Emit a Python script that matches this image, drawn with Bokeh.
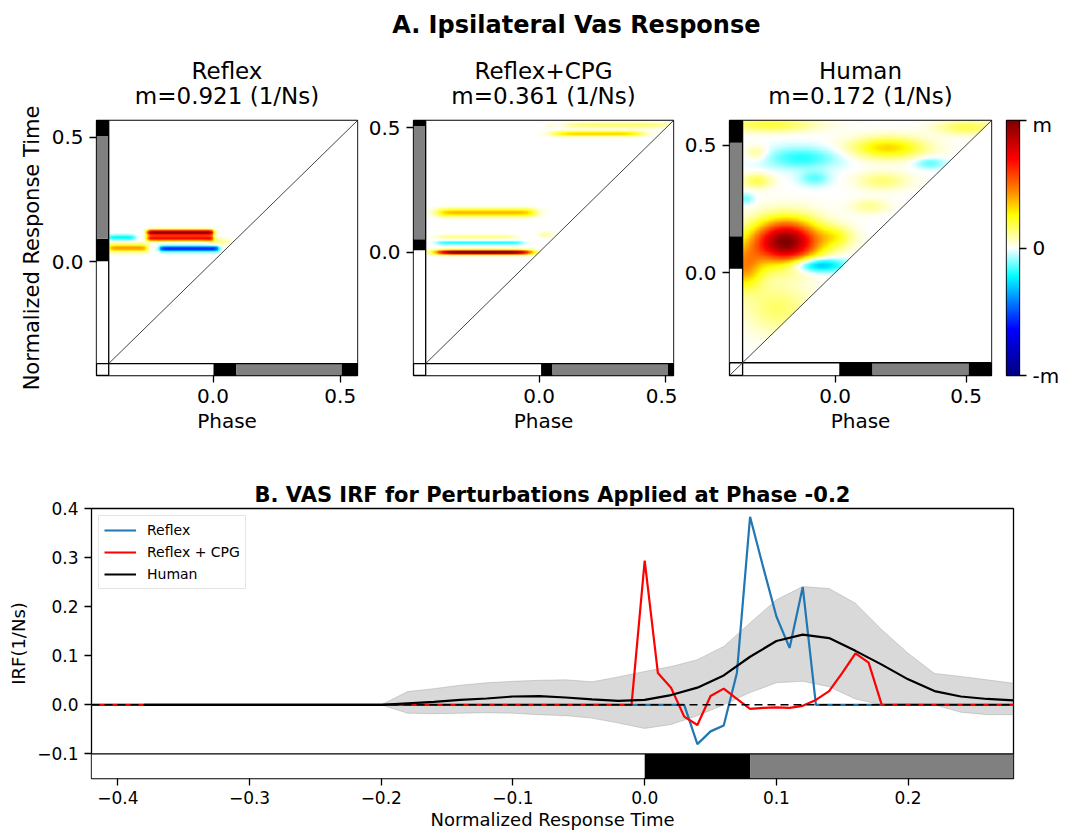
import numpy as np
from bokeh.plotting import figure
from bokeh.layouts import column, row
from bokeh.models import LinearColorMapper, Range1d, FixedTicker, Legend, LegendItem
from bokeh.embed import file_html
from bokeh.resources import INLINE
from bokeh.core.properties import value

FONT = "DejaVu Sans"

# ------------------------------------------------------------------ data: panel A
suptitle = "A. Ipsilateral Vas Response"
panel_titles = ["Reflex", "Reflex+CPG", "Human"]
panel_m = ["0.921", "0.361", "0.172"]
a_ylabel = "Normalized Response Time"
a_xlabel = "Phase"
panel_lo = [-0.41, -0.447, -0.353]      # phase range of the main map
panel_hi = [0.568, 0.530, 0.597]
strip_w = [0.048, 0.048, 0.050]          # width of the phase strips
phase_bounds = [[0.002, 0.092, 0.506],   # white | black | gray | black
                [0.008, 0.053, 0.508],
                [0.016, 0.143, 0.510]]
phase_colors = ["white", "black", "gray", "black"]
diag_from_corner = [False, False, True]

# Reflex map: horizontal bands (x0, x1, y, thickness, amplitude / m, edge softness)
rfx_x0 = [-0.26, -0.26, -0.21, -0.41, -0.41, -0.02]
rfx_x1 = [0.00, 0.00, 0.02, -0.26, -0.31, 0.06]
rfx_y = [0.117, 0.094, 0.052, 0.055, 0.097, 0.080]
rfx_sy = [0.008, 0.008, 0.008, 0.011, 0.007, 0.010]
rfx_amp = [0.95, 0.72, -0.58, 0.42, -0.25, 0.12]
rfx_edge = [0.010, 0.010, 0.010, 0.012, 0.012, 0.020]

# Reflex+CPG map: horizontal bands
cpg_x0 = [-0.40, -0.40, -0.40, -0.40, 0.06, 0.11, 0.00, 0.03]
cpg_x1 = [-0.04, -0.07, -0.10, -0.02, 0.40, 0.50, 0.05, 0.05]
cpg_y = [0.000, 0.038, 0.061, 0.160, 0.478, 0.512, 0.072, 0.510]
cpg_sy = [0.007, 0.005, 0.006, 0.011, 0.007, 0.008, 0.008, 0.004]
cpg_amp = [1.00, -0.20, 0.13, 0.38, 0.33, 0.15, 0.10, 0.10]
cpg_edge = [0.040, 0.020, 0.030, 0.030, 0.040, 0.040, 0.015, 0.010]

# Human map: smooth blobs (centre, spread, amplitude / m)
hum_xc = [-0.19, -0.35, -0.07, -0.13, -0.08, 0.20, 0.36, -0.25, 0.50, 0.18, 0.13, -0.30, -0.22, -0.34, 0.00, -0.30]
hum_yc = [0.12, 0.02, 0.03, 0.45, 0.37, 0.49, 0.43, 0.58, 0.57, 0.36, 0.26, 0.36, -0.14, 0.29, 0.14, 0.47]
hum_sx = [0.09, 0.05, 0.07, 0.10, 0.04, 0.10, 0.04, 0.12, 0.08, 0.07, 0.05, 0.04, 0.09, 0.02, 0.05, 0.03]
hum_sy = [0.06, 0.06, 0.02, 0.03, 0.02, 0.03, 0.015, 0.02, 0.02, 0.025, 0.02, 0.02, 0.07, 0.015, 0.03, 0.02]
hum_amp = [1.00, 0.40, -0.40, -0.19, -0.14, 0.32, -0.15, 0.20, 0.18, 0.14, 0.11, 0.18, 0.15, -0.12, 0.18, 0.12]

# colour map (jet with white centre)
cm_pos = [0.0, 0.18, 0.29, 0.39, 0.5, 0.63, 0.73, 0.85, 1.0]
cm_col = ["#00007f", "#0000ff", "#0080ff", "#00ffff", "#ffffff", "#ffff00", "#ff8000", "#ff0000", "#7f0000"]
cbar_ticks = [-1, 0, 1]
cbar_labels = ["-m", "0", "m"]

# ------------------------------------------------------------------ data: panel B
b_title = "B. VAS IRF for Perturbations Applied at Phase -0.2"
reflex_t = [-0.42, 0.03, 0.04, 0.05, 0.06, 0.07, 0.08, 0.09, 0.10, 0.11, 0.12, 0.13, 0.28]
reflex_irf = [0.0, 0.0, -0.080, -0.054, -0.042, 0.065, 0.383, 0.280, 0.180, 0.116, 0.240, 0.0, 0.0]
cpg_t = [-0.42, -0.01, 0.00, 0.01, 0.02, 0.03, 0.04, 0.05, 0.06, 0.07, 0.08, 0.09, 0.10,
         0.11, 0.12, 0.13, 0.14, 0.15, 0.16, 0.17, 0.18, 0.28]
cpg_irf = [0.0, 0.0, 0.294, 0.065, 0.035, -0.024, -0.041, 0.018, 0.033, 0.012, -0.008, -0.006, -0.005,
           -0.006, -0.002, 0.010, 0.028, 0.065, 0.105, 0.086, 0.0, 0.0]
hum_t = [-0.38, -0.36, -0.34, -0.32, -0.30, -0.28, -0.26, -0.24, -0.22, -0.20, -0.18, -0.16, -0.14,
         -0.12, -0.10, -0.08, -0.06, -0.04, -0.02, 0.00, 0.02, 0.04, 0.06, 0.08, 0.10, 0.12, 0.14,
         0.16, 0.18, 0.20, 0.22, 0.24, 0.26, 0.28]
hum_irf = [0, 0, 0, 0, 0, 0, 0, 0, 0, 0, 0.003, 0.006, 0.010, 0.013, 0.017, 0.018, 0.015, 0.011,
           0.008, 0.010, 0.020, 0.035, 0.060, 0.098, 0.130, 0.143, 0.136, 0.110, 0.082, 0.052,
           0.028, 0.017, 0.012, 0.009]
band_t = [-0.20, -0.18, -0.16, -0.14, -0.12, -0.10, -0.08, -0.06, -0.04, -0.02, 0.00, 0.02, 0.04,
          0.06, 0.08, 0.10, 0.12, 0.14, 0.16, 0.18, 0.20, 0.22, 0.24, 0.26, 0.28]
band_hi = [0.0, 0.027, 0.033, 0.040, 0.045, 0.048, 0.050, 0.051, 0.047, 0.057, 0.068, 0.078, 0.092,
           0.119, 0.167, 0.214, 0.241, 0.237, 0.207, 0.153, 0.105, 0.064, 0.058, 0.051, 0.044]
band_lo = [0.0, -0.017, -0.018, -0.017, -0.016, -0.017, -0.020, -0.022, -0.027, -0.037, -0.048, -0.040,
           -0.022, 0.000, 0.025, 0.045, 0.048, 0.037, 0.012, 0.000, 0.002, 0.000, -0.015, -0.020, -0.020]
b_phase_edges = [-0.42, 0.0, 0.08, 0.28]
b_phase_colors = ["white", "black", "gray"]
b_xticks = [-0.4, -0.3, -0.2, -0.1, 0.0, 0.1, 0.2]
b_yticks = [-0.1, 0.0, 0.1, 0.2, 0.3, 0.4]
b_xlim = (-0.42, 0.28)
b_ylim = (-0.15, 0.4)
b_strip_top = -0.1

# ------------------------------------------------------------------ layout constants (pixels)
W = 1065
SUP_H = 45            # suptitle strip
HEAD_H = 67           # panel titles
TOP_H = 333           # heat-map row
BOT_H = 388           # panel B
YLAB_W = 46           # column holding the shared y label
fig_w = [315, 316, 323, 65]
fig_left = [50, 52, 52, 6]
fig_right = [4, 4, 9, 46]
FRAME_TOP, FRAME_BOT = 8, 70

# ------------------------------------------------------------------ helpers
def hex2rgb(h):
    return [int(h[i:i + 2], 16) for i in (1, 3, 5)]

rgb = np.array([hex2rgb(c) for c in cm_col], float)
tt = np.linspace(0, 1, 255)
palette = ["#%02x%02x%02x" % tuple(int(round(np.interp(t, cm_pos, rgb[:, k]))) for k in range(3)) for t in tt]
mapper = LinearColorMapper(palette=palette, low=-1, high=1, nan_color="white")

N = 300

def grid(i):
    lo, hi = panel_lo[i], panel_hi[i]
    g = np.linspace(lo, hi, N)
    return np.meshgrid(g, g)

def band_field(i, x0, x1, yc, sy, amp, edge):
    X, Y = grid(i)
    F = np.zeros_like(X)
    for a, b, c, s, m, e in zip(x0, x1, yc, sy, amp, edge):
        F += m * 0.5 * (np.tanh((X - a) / e) - np.tanh((X - b) / e)) * np.exp(-0.5 * ((Y - c) / s) ** 2)
    F[Y < X] = np.nan
    return np.clip(F, -1, 1)

def blob_field(i, xc, yc, sx, sy, amp):
    X, Y = grid(i)
    F = np.zeros_like(X)
    for a, c, s, t, m in zip(xc, yc, sx, sy, amp):
        F += m * np.exp(-0.5 * (((X - a) / s) ** 2 + ((Y - c) / t) ** 2))
    F[Y < X] = np.nan
    return np.clip(F, -1, 1)

fields = [band_field(0, rfx_x0, rfx_x1, rfx_y, rfx_sy, rfx_amp, rfx_edge),
          band_field(1, cpg_x0, cpg_x1, cpg_y, cpg_sy, cpg_amp, cpg_edge),
          blob_field(2, hum_xc, hum_yc, hum_sx, hum_sy, hum_amp)]


def blank(width, height):
    p = figure(width=width, height=height, x_range=Range1d(0, width), y_range=Range1d(0, height),
               output_backend="svg", toolbar_location=None, min_border=0,
               x_axis_location=None, y_axis_location=None)
    p.outline_line_color = None
    p.xgrid.grid_line_color = None
    p.ygrid.grid_line_color = None
    return p


def style(p, tick_size, label_size):
    for ax in list(p.xaxis) + list(p.yaxis):
        ax.major_label_text_font = FONT
        ax.major_label_text_font_size = tick_size
        ax.major_label_text_color = "black"
        ax.axis_label_text_font = FONT
        ax.axis_label_text_font_size = label_size
        ax.axis_label_text_font_style = "normal"
        ax.axis_label_text_color = "black"
        ax.major_tick_in = 0
        ax.major_tick_out = 7
        ax.minor_tick_in = 0
        ax.minor_tick_out = 0
        ax.major_tick_line_color = "black"
        ax.major_tick_line_width = 1.3
        ax.axis_line_color = None
        ax.major_label_standoff = 6
        ax.axis_label_standoff = 5
    p.xgrid.grid_line_color = None
    p.ygrid.grid_line_color = None
    p.outline_line_color = "black"
    p.outline_line_width = 1.3
    p.outline_line_alpha = 1.0
    p.background_fill_color = "white"
    p.border_fill_color = "white"


def heat_panel(i):
    lo, hi = panel_lo[i], panel_hi[i]
    flo = lo - strip_w[i]
    p = figure(width=fig_w[i], height=TOP_H, x_range=Range1d(flo, hi), y_range=Range1d(flo, hi),
               output_backend="svg", toolbar_location=None,
               min_border_left=fig_left[i], min_border_right=fig_right[i],
               min_border_top=FRAME_TOP, min_border_bottom=FRAME_BOT)
    p.image(image=[fields[i]], x=lo, y=lo, dw=hi - lo, dh=hi - lo, color_mapper=mapper)
    edges = [lo] + phase_bounds[i] + [hi]
    p.quad(left=flo, right=lo, bottom=edges[:-1], top=edges[1:], fill_color=phase_colors, line_color=None)
    p.quad(left=edges[:-1], right=edges[1:], bottom=flo, top=lo, fill_color=phase_colors, line_color=None)
    p.segment(x0=[lo, flo], y0=[flo, lo], x1=[lo, hi], y1=[hi, lo], line_color="black", line_width=1.3)
    d0 = flo if diag_from_corner[i] else lo
    p.line(x=[d0, hi], y=[d0, hi], line_color="#444444", line_width=1)
    p.xaxis.ticker = FixedTicker(ticks=[0.0, 0.5])
    p.yaxis.ticker = FixedTicker(ticks=[0.0, 0.5])
    p.xaxis.major_label_overrides = {0.0: "0.0", 0.5: "0.5"}
    p.yaxis.major_label_overrides = {0.0: "0.0", 0.5: "0.5"}
    p.xaxis.axis_label = a_xlabel
    style(p, "20px", "20px")
    p.xaxis.axis_label_standoff = 3
    return p


# ------------------------------------------------------------------ suptitle
pt = blank(W, SUP_H)
pt.text(x=[560], y=[SUP_H - 24], text=[suptitle], text_align="center", text_baseline="middle",
        text_font=value(FONT), text_font_style="bold", text_font_size="24px", text_color="black")

# shared y label of panel A
pyl = blank(YLAB_W, HEAD_H + TOP_H)
frame_mid = TOP_H - FRAME_TOP - (TOP_H - FRAME_TOP - FRAME_BOT) / 2
pyl.text(x=[31], y=[frame_mid], text=[a_ylabel], angle=np.pi / 2, text_align="center",
         text_baseline="middle", text_font=value(FONT), text_font_size="21px", text_color="black")

# panel titles
ph = blank(W - YLAB_W, HEAD_H)
x_start = np.cumsum([0] + fig_w[:-1])
centres = [x_start[i] + fig_left[i] + (fig_w[i] - fig_left[i] - fig_right[i]) / 2 for i in range(3)]
ph.text(x=centres, y=[HEAD_H - 25] * 3, text=panel_titles, text_align="center",
        text_baseline="middle", text_font=value(FONT), text_font_size="23px", text_color="black")
ph.text(x=centres, y=[HEAD_H - 50] * 3, text=["m=" + m + " (1/Ns)" for m in panel_m],
        text_align="center", text_baseline="middle", text_font=value(FONT),
        text_font_size="23px", text_color="black")

p1 = heat_panel(0)
p2 = heat_panel(1)
p3 = heat_panel(2)

# colour bar
cb = figure(width=fig_w[3], height=TOP_H, x_range=Range1d(0, 1), y_range=Range1d(-1, 1),
            output_backend="svg", toolbar_location=None,
            min_border_left=fig_left[3], min_border_right=fig_right[3],
            min_border_top=FRAME_TOP, min_border_bottom=FRAME_BOT,
            x_axis_location=None, y_axis_location="right")
cb.image(image=[np.linspace(-1, 1, 255).reshape(-1, 1)], x=0, y=-1, dw=1, dh=2, color_mapper=mapper)
cb.yaxis.ticker = FixedTicker(ticks=cbar_ticks)
cb.yaxis.major_label_overrides = dict(zip(cbar_ticks, cbar_labels))
style(cb, "20px", "20px")

# ------------------------------------------------------------------ panel B
pb = figure(width=W, height=BOT_H, x_range=Range1d(*b_xlim), y_range=Range1d(*b_ylim),
            output_backend="svg", toolbar_location=None,
            min_border_left=91, min_border_right=52, min_border_top=63, min_border_bottom=55,
            title=b_title)
pb.title.align = "center"
pb.title.text_font = FONT
pb.title.text_font_size = "21px"
pb.title.text_font_style = "bold"
pb.title.text_color = "black"
pb.title.standoff = 4

pb.varea(x=band_t, y1=band_lo, y2=band_hi, fill_color="gray", fill_alpha=0.3)
pb.line(x=band_t, y=band_hi, line_color="gray", line_alpha=0.3, line_width=1)
pb.line(x=band_t, y=band_lo, line_color="gray", line_alpha=0.3, line_width=1)
pb.quad(left=b_phase_edges[:-1], right=b_phase_edges[1:], bottom=b_ylim[0], top=b_strip_top,
        fill_color=b_phase_colors, line_color=None)
pb.line(x=list(b_xlim), y=[b_strip_top, b_strip_top], line_color="black", line_width=1.3)
r_blue = pb.line(x=reflex_t, y=reflex_irf, line_color="#1f77b4", line_width=2.2)
r_red = pb.line(x=cpg_t, y=cpg_irf, line_color="#ff0000", line_width=2.2)
pb.line(x=list(b_xlim), y=[0, 0], line_color="black", line_width=1.5, line_dash="8 5")
r_hum = pb.line(x=hum_t, y=hum_irf, line_color="black", line_width=2.2)

pb.xaxis.ticker = FixedTicker(ticks=b_xticks)
pb.yaxis.ticker = FixedTicker(ticks=b_yticks)
fmt = lambda v: ("\u2212" if v < 0 else "") + "%.1f" % abs(v)
pb.xaxis.major_label_overrides = {v: fmt(v) for v in b_xticks}
pb.yaxis.major_label_overrides = {v: fmt(v) for v in b_yticks}
pb.xaxis.axis_label = "Normalized Response Time"
pb.yaxis.axis_label = "IRF(1/Ns)"
style(pb, "17px", "18px")
pb.xaxis.major_label_standoff = 5
pb.xaxis.axis_label_standoff = 2

legend = Legend(items=[LegendItem(label="Reflex", renderers=[r_blue]),
                       LegendItem(label="Reflex + CPG", renderers=[r_red]),
                       LegendItem(label="Human", renderers=[r_hum])],
                location="top_left", label_text_font=FONT, label_text_font_size="14px",
                label_text_color="black",
                glyph_width=32, glyph_height=18, label_standoff=11, spacing=4, padding=5, margin=7,
                border_line_color="#cccccc", border_line_width=1, background_fill_alpha=0.8)
pb.add_layout(legend)

top = row(pyl, column(ph, row(p1, p2, p3, cb)))
layout = column(pt, top, pb)
open("out.html", "w").write(file_html(layout, INLINE))
